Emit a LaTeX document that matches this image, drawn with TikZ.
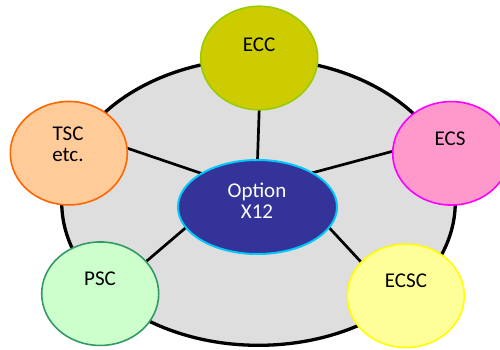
\documentclass[tikz,border=0pt]{standalone}
\usepackage{fontspec}
\setmainfont{Carlito}
\usetikzlibrary{shapes.geometric}
\pgfdeclarelayer{bg}
\pgfsetlayers{bg,main}
\definecolor{eccfill}{HTML}{CCCC00}\definecolor{eccdraw}{HTML}{99CC00}
\definecolor{tscfill}{HTML}{FFCC99}\definecolor{tscdraw}{HTML}{FF6600}
\definecolor{ecsfill}{HTML}{FF99CC}\definecolor{ecsdraw}{HTML}{FF00FF}
\definecolor{pscfill}{HTML}{CCFFCC}\definecolor{pscdraw}{HTML}{339966}
\definecolor{ecscfill}{HTML}{FFFF99}\definecolor{ecscdraw}{HTML}{FFFF00}
\definecolor{hubfill}{HTML}{333399}\definecolor{hubdraw}{HTML}{00C8F8}
\definecolor{ringfill}{HTML}{DEDEDE}
\begin{document}
\begin{tikzpicture}[x=1pt,y=-1pt,
  sat/.style={ellipse,minimum width=117pt,minimum height=103.5pt,inner sep=0pt,outer sep=0pt,line width=1.6pt},
  lbl/.style={anchor=base,inner sep=0pt,font=\fontsize{21}{21}\selectfont},
  spoke/.style={line width=2.7pt}]
\useasboundingbox (0,0) rectangle (500,349);
\node[ellipse,minimum width=393.6pt,minimum height=286.6pt,inner sep=0pt,outer sep=0pt] (ring) at (258.5,202) {};
\node[ellipse,minimum width=159pt,minimum height=94pt,inner sep=0pt,outer sep=0pt,fill=hubfill,draw=hubdraw,line width=2pt] (hub) at (257.5,207) {};
\node[sat,fill=eccfill,draw=eccdraw] (ecc) at (259.2,58) {};
\node[sat,fill=tscfill,draw=tscdraw] (tsc) at (68.8,153.2) {};
\node[sat,fill=ecsfill,draw=ecsdraw] (ecs) at (451.2,153.3) {};
\node[sat,fill=pscfill,draw=pscdraw] (psc) at (100.2,293.7) {};
\node[sat,fill=ecscfill,draw=ecscdraw] (ecsc) at (405.8,295.8) {};
\begin{pgfonlayer}{bg}
\draw[line width=3.3pt,fill=ringfill] (ring.center) ellipse [x radius=196.8pt,y radius=143.3pt];
\draw[spoke] (ecc.south) -- (hub.north);
\draw[spoke] (tsc.5) -- (hub.149);
\draw[spoke] (ecs.178) -- (hub.32);
\draw[spoke] (psc.35) -- (hub.196);
\draw[spoke] (ecsc.143) -- (hub.344);
\end{pgfonlayer}
\node[lbl] (ecctext) at (259,51) {ECC};
\node[lbl] (tsctext1) at (68,140.7) {TSC};
\node[lbl] (tsctext2) at (68,161.7) {etc.};
\node[lbl] (ecstext) at (450,145) {ECS};
\node[lbl] (psctext) at (100,285) {PSC};
\node[lbl] (ecsctext) at (406,287.3) {ECSC};
\node[lbl,text=white] (hubtext1) at (257,197.7) {Option};
\node[lbl,text=white] (hubtext2) at (257,218.3) {X12};
\end{tikzpicture}
\end{document}
